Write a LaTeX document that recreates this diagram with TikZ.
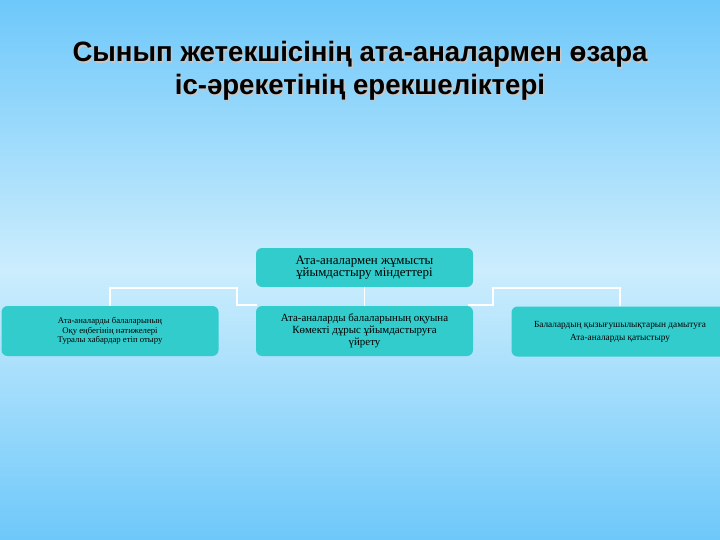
\documentclass[tikz,border=0pt]{standalone}
\usepackage{fontspec}
\setmainfont{Liberation Serif}
\newfontfamily\headfont{Liberation Sans}
\definecolor{sky}{RGB}{110,200,250}
\definecolor{pale}{RGB}{204,237,253}
\definecolor{boxteal}{RGB}{51,204,204}
\tikzset{
  task/.style={fill=boxteal, rounded corners=6pt, minimum width=217pt,
    minimum height=50pt, inner sep=0pt, align=center, text=black},
  link/.style={draw=white, line width=1.5pt},
  heading/.style={anchor=base, xscale=0.985, font=\headfont\bfseries\fontsize{28}{33}\selectfont},
}
\begin{document}
\begin{tikzpicture}[x=1pt,y=-1pt]
  % Background
  \useasboundingbox (0,0) rectangle (720,540);
  \shade[top color=sky,bottom color=sky,middle color=pale] (0,0) rectangle (720,540);

  % Title
  \node[heading,text=gray!45] at (361.5,63.5) {Сынып жетекшісінің ата-аналармен өзара};
  \node[heading,text=gray!45] at (361.5,96.5) {іс-әрекетінің ерекшеліктері};
  \node[heading] (title1) at (360,62) {Сынып жетекшісінің ата-аналармен өзара};
  \node[heading] (title2) at (360,95) {іс-әрекетінің ерекшеліктері};

  % Boxes
  \node[task,minimum height=39pt,font=\fontsize{12.9}{12}\selectfont] (top) at (364.5,267.5)
    {Ата-аналармен жұмысты\\ұйымдастыру міндеттері};
  \node[task,font=\fontsize{8.7}{9.5}\selectfont] (left) at (110,331)
    {Ата-аналарды балаларының\\Оқу еңбегінің нәтижелері\\Туралы хабардар етіп отыру};
  \node[task,font=\fontsize{10.9}{12}\selectfont] (middle) at (364.5,331)
    {Ата-аналарды балаларының оқуына\\Көмекті дұрыс ұйымдастыруға\\үйрету};
  \node[task,font=\fontsize{9.3}{13}\selectfont] (right) at (620,331.5)
    {Балалардың қызығушылықтарын дамытуға\\Ата-аналарды қатыстыру};

  % Connectors
  \coordinate (lbend) at (237,288);
  \coordinate (lend) at (257,305);
  \coordinate (rbend) at (493,288);
  \coordinate (rend) at (468,305);
  \draw[link] (top.south) -- (middle.north);
  \draw[link] (left.north) |- (lbend) |- (lend);
  \draw[link] (right.north) |- (rbend) |- (rend);
\end{tikzpicture}
\end{document}
